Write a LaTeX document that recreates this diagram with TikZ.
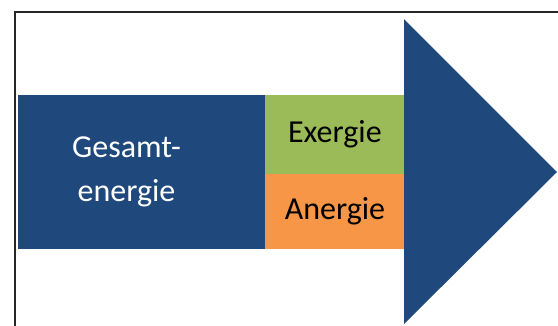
\documentclass[tikz,border=0pt]{standalone}
\usepackage{fontspec}
\setmainfont{Carlito}
\usetikzlibrary{positioning}
\definecolor{energyblue}{RGB}{31,73,125}
\definecolor{exgreen}{RGB}{155,187,89}
\definecolor{anorange}{RGB}{247,150,70}
\tikzset{
	block/.style={inner sep=0pt,align=center,font=\fontsize{32}{44}\selectfont},
	main block/.style={block,fill=energyblue,text=white,minimum width=247pt,minimum height=154.5pt},
	exbox/.style={block,fill=exgreen,minimum width=139pt,minimum height=79pt},
	anbox/.style={block,fill=anorange,minimum width=139pt,minimum height=75.5pt}
}

\begin{document}
\begin{tikzpicture}[x=1pt,y=-1pt]
	\useasboundingbox (0,0) rectangle (558,325);
	% frame
	\draw[line width=2pt,black!85] (14.5,326) -- (14.5,12) -- (559,12);
	% arrow head
	\coordinate (head top) at (404,19);
	\coordinate (head bottom) at (404,324);
	\coordinate (head tip) at (557,172);
	\fill[energyblue] (head top) -- (head tip) -- (head bottom) -- cycle;
	% shaft
	\node [main block] (gesamt) at (141.5,171.75) {\hspace*{-30pt}Gesamt-\\\hspace*{-30pt}energie};
	\node [exbox,anchor=north west] (exergie) at (gesamt.north east) {\raisebox{-2pt}{Exergie}};
	\node [anbox,below=0pt of exergie] (anergie) {\raisebox{-2pt}{Anergie}};
\end{tikzpicture}
\end{document}
